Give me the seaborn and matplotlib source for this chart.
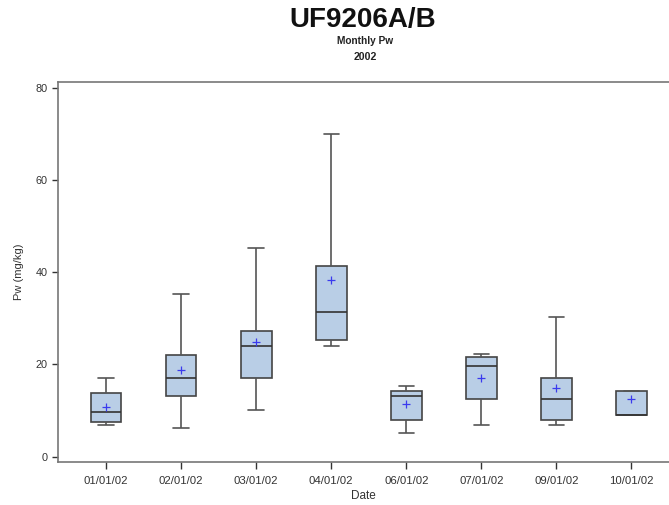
import matplotlib
matplotlib.use("Agg")
import matplotlib.pyplot as plt
import seaborn as sns
import pandas as pd

dates = ["01/01/02", "02/01/02", "03/01/02", "04/01/02",
         "06/01/02", "07/01/02", "09/01/02", "10/01/02"]
whisk_lo = [6.9, 6.3, 10.0, 24.1, 5.1, 6.9, 6.9, 9.1]
q1 = [7.5, 13.1, 17.1, 25.3, 8.0, 12.5, 8.0, 9.1]
medians = [9.6, 17.1, 23.9, 31.3, 13.1, 19.6, 12.5, 9.1]
q3 = [13.7, 22.1, 27.2, 41.3, 14.2, 21.6, 17.1, 14.2]
whisk_hi = [17.1, 35.3, 45.2, 70.1, 15.3, 22.2, 30.2, 14.2]
means = [10.8, 18.7, 24.9, 38.3, 11.5, 17.1, 14.9, 12.4]

rows = []
for d, a, b, c, e, f in zip(dates, whisk_lo, q1, medians, q3, whisk_hi):
    for v in (a, b, c, e, f):
        rows.append({"Date": d, "Pw": v})
df = pd.DataFrame(rows)
mdf = pd.DataFrame({"Date": dates, "Pw": means})

sns.set_style("white")
plt.rcParams["font.family"] = ["Liberation Sans", "DejaVu Sans"]

fig = plt.figure(figsize=(6.69, 5.05), dpi=100)
ax = fig.add_axes([0.0867, 0.085, 0.9133, 0.7525])

edge = "#444444"
sns.boxplot(data=df, x="Date", y="Pw", order=dates, whis=(0, 100),
            width=0.41, color="#b9cee6", saturation=1, linewidth=1.2,
            linecolor=edge, showfliers=False, ax=ax,
            boxprops=dict(facecolor="#b9cee6", edgecolor=edge),
            whiskerprops=dict(color="#555555"), capprops=dict(color="#555555"),
            medianprops=dict(color="#333333"))
sns.scatterplot(data=mdf, x="Date", y="Pw", marker="+", color="#3a3aee",
                s=32, linewidth=0.9, ax=ax, zorder=5)

ax.set_xlim(-0.64, 7.5)
ax.set_ylim(-1.2, 81.3)
ax.set_yticks([0, 20, 40, 60, 80])
ax.set_xlabel("Date", fontsize=8.5, color="#333333", labelpad=3)
ax.set_ylabel("Pw (mg/kg)", fontsize=8, color="#333333", labelpad=8)
ax.tick_params(axis="x", labelsize=8.2, colors="#333333", length=5,
               width=1, direction="out", bottom=True, pad=5)
ax.tick_params(axis="y", labelsize=7.8, colors="#333333", length=4,
               width=1, direction="out", left=True)
for s in ["left", "bottom", "top"]:
    ax.spines[s].set_color("#777777")
    ax.spines[s].set_linewidth(1.2)
ax.spines["right"].set_visible(False)

fig.text(0.542, 0.960, "UF9206A/B", ha="center", va="center",
         fontsize=20, fontweight="bold", color="#111111")
fig.text(0.546, 0.919, "Monthly Pw", ha="center", va="center",
         fontsize=7.3, fontweight="bold", color="#222222")
fig.text(0.546, 0.888, "2002", ha="center", va="center",
         fontsize=7.6, fontweight="bold", color="#222222")

fig.savefig("out.png", dpi=100)
